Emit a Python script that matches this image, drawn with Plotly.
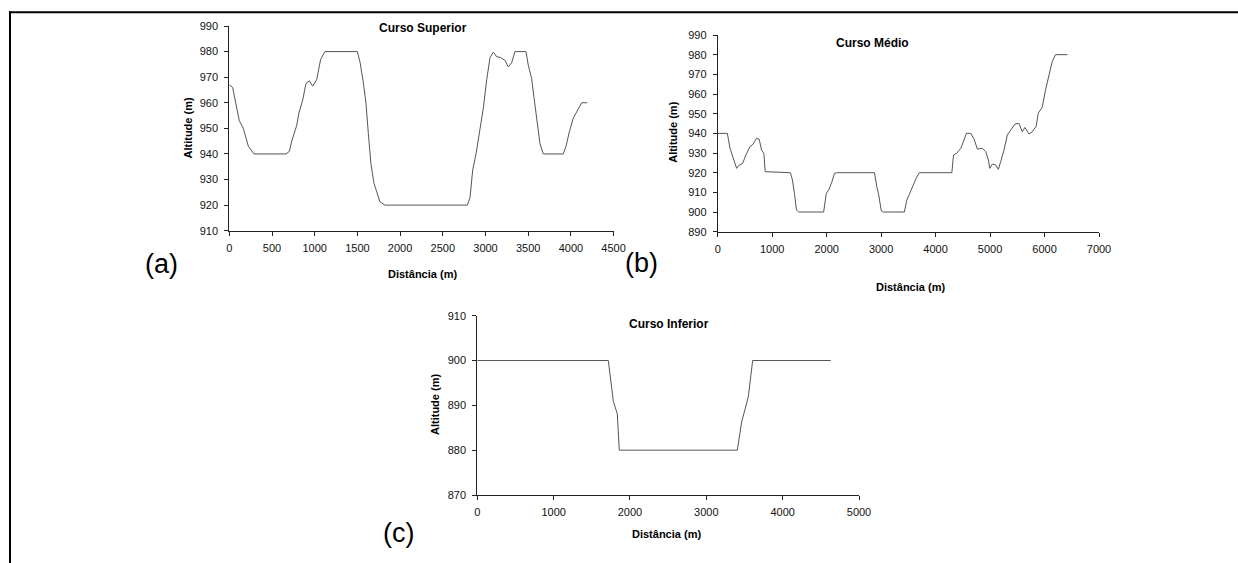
import plotly.graph_objects as go

W, H = 1238, 563

# ---------------- data ----------------
sup_dist = [0, 39, 117, 164, 223, 262, 289, 664, 703, 731, 788, 815, 859, 898, 937, 976,
            1023, 1070, 1120, 1499, 1530, 1569, 1600, 1628, 1659, 1694, 1725, 1764, 1823,
            2787, 2819, 2850, 2889, 2928, 2975, 3014, 3053, 3092, 3131, 3177, 3230, 3267,
            3306, 3345, 3474, 3501, 3540, 3568, 3599, 3638, 3677, 3911, 3943, 3982, 4028,
            4075, 4126, 4190]
sup_alt = [967, 966, 953, 950, 943, 941, 940, 940, 941, 945, 951, 956, 961, 967.5, 968.6, 966.5,
           969, 977, 980, 980, 976, 968, 960, 948, 936, 928.5, 925, 921.3, 920,
           920, 923, 933.7, 940, 948, 958, 969, 977.7, 979.8, 978, 977.7, 976.5, 974,
           975.6, 980, 980, 974.7, 969.5, 962, 953, 944, 940, 940, 943, 948.7, 954,
           957, 960, 960]

med_dist = [0, 177, 226, 287, 348, 396, 457, 518, 591, 652, 713, 762, 805, 848, 872,
            1335, 1372, 1409, 1445, 1488, 1945, 1994, 2043, 2091, 2146, 2189,
            2878, 2921, 2957, 3000, 3030, 3427, 3470, 3518, 3579, 3640, 3701,
            4299, 4329, 4384, 4463, 4524, 4567, 4646, 4707, 4768, 4860, 4921, 4970, 4994,
            5043, 5104, 5152, 5195, 5256, 5317, 5396, 5457, 5530, 5591, 5640, 5713, 5774,
            5848, 5884, 5957, 6018, 6079, 6140, 6201, 6420]
med_alt = [940, 940, 932.4, 927.3, 922.2, 923.9, 924.7, 929, 933.2, 934.6, 937.5, 937, 931.5, 929.8, 920.5,
           920, 916.3, 909.5, 901, 900, 900, 909.5, 911.5, 914.9, 919.7, 920,
           920, 912.9, 908.6, 901, 900, 900, 906, 909, 913, 917, 920,
           920, 929, 929.8, 932.4, 936.6, 940, 940, 937, 932, 932.4, 930.7, 926.4, 922.2,
           924.4, 923.9, 921.7, 925.6, 931.5, 939.2, 942.5, 944.7, 945.1, 940.8, 943, 939.7, 940.8,
           943.7, 950.2, 953.2, 962, 968.8, 976.4, 980, 980]

inf_dist = [0, 1716, 1782, 1834, 1860, 3406, 3463, 3550, 3607, 4629]
inf_alt = [900, 900, 890.9, 888.1, 880, 880, 886.3, 891.9, 900, 900]

titles = ["Curso Superior", "Curso Médio", "Curso Inferior"]
panel_labels = ["(a)", "(b)", "(c)"]
x_title = "Distância (m)"
y_title = "Altitude (m)"

FONT = "Liberation Sans, Arial, sans-serif"


def px(x):
    return x / W


def py(y):
    return 1 - y / H


fig = go.Figure()

line_style = dict(color="#555555", width=1)
fig.add_trace(go.Scatter(x=sup_dist, y=sup_alt, mode="lines", line=line_style, xaxis="x", yaxis="y", showlegend=False))
fig.add_trace(go.Scatter(x=med_dist, y=med_alt, mode="lines", line=line_style, xaxis="x2", yaxis="y2", showlegend=False))
fig.add_trace(go.Scatter(x=inf_dist, y=inf_alt, mode="lines", line=line_style, xaxis="x3", yaxis="y3", showlegend=False))

axis_common = dict(showgrid=False, zeroline=False, showline=True, linecolor="#222222", linewidth=1,
                   ticks="outside", ticklen=4, tickcolor="#222222", tickwidth=1, automargin=False,
                   tickfont=dict(family=FONT, size=11, color="#111111"), fixedrange=True)

fig.update_layout(
    template="none",
    width=W, height=H, margin=dict(l=0, r=0, t=0, b=0, pad=0, autoexpand=False),
    paper_bgcolor="white", plot_bgcolor="white",
    xaxis=dict(domain=[px(229.3), px(613.6)], range=[0, 4500], dtick=500, anchor="y",
               ticklabelstandoff=3, **axis_common),
    yaxis=dict(domain=[py(230.7), py(26)], range=[910, 990], dtick=10, anchor="x",
               ticklabelstandoff=4, **axis_common),
    xaxis2=dict(domain=[px(717.7), px(1099)], range=[0, 7000], dtick=1000, anchor="y2",
                ticklabelstandoff=3, **axis_common),
    yaxis2=dict(domain=[py(231.7), py(35)], range=[890, 990], dtick=10, anchor="x2",
                ticklabelstandoff=4, **axis_common),
    xaxis3=dict(domain=[px(477.3), px(859)], range=[0, 5000], dtick=1000, anchor="y3",
                ticklabelstandoff=3, **axis_common),
    yaxis3=dict(domain=[py(495), py(315.7)], range=[870, 910], dtick=10, anchor="x3",
                ticklabelstandoff=4, **axis_common),
)

annots = []


def add_text(text, x, y, size, bold=False, angle=0):
    annots.append(dict(text=("<b>%s</b>" % text) if bold else text, x=px(x), y=py(y),
                       xref="paper", yref="paper", xanchor="center", yanchor="middle",
                       showarrow=False, textangle=angle,
                       font=dict(family=FONT, size=size, color="black")))


# titles
add_text(titles[0], 422.7, 28, 12, bold=True)
add_text(titles[1], 872, 42.7, 12, bold=True)
add_text(titles[2], 669.3, 324.3, 12, bold=True)
# x axis titles
add_text(x_title, 422, 274, 11, bold=True)
add_text(x_title, 910, 286.7, 11, bold=True)
add_text(x_title, 666.7, 534.3, 11, bold=True)
# y axis titles
add_text(y_title, 187, 128.5, 11, bold=True, angle=-90)
add_text(y_title, 673.3, 132.5, 11, bold=True, angle=-90)
add_text(y_title, 435, 405, 11, bold=True, angle=-90)
# panel labels
add_text(panel_labels[0], 161, 264, 27)
add_text(panel_labels[1], 641, 263, 27)
add_text(panel_labels[2], 398.7, 533, 27)

fig.update_layout(annotations=annots)

# frame lines (top and left)
fig.add_shape(type="line", xref="paper", yref="paper", x0=px(9), x1=1, y0=py(12.3), y1=py(12.3),
              line=dict(color="black", width=2))
fig.add_shape(type="line", xref="paper", yref="paper", x0=px(10), x1=px(10), y0=py(11.3), y1=0,
              line=dict(color="black", width=2))

fig.write_html(
    "out.html",
    config={"displayModeBar": False},
    post_script="document.body.style.margin='0';document.body.style.padding='0';"
                "document.body.style.overflow='hidden';",
)
